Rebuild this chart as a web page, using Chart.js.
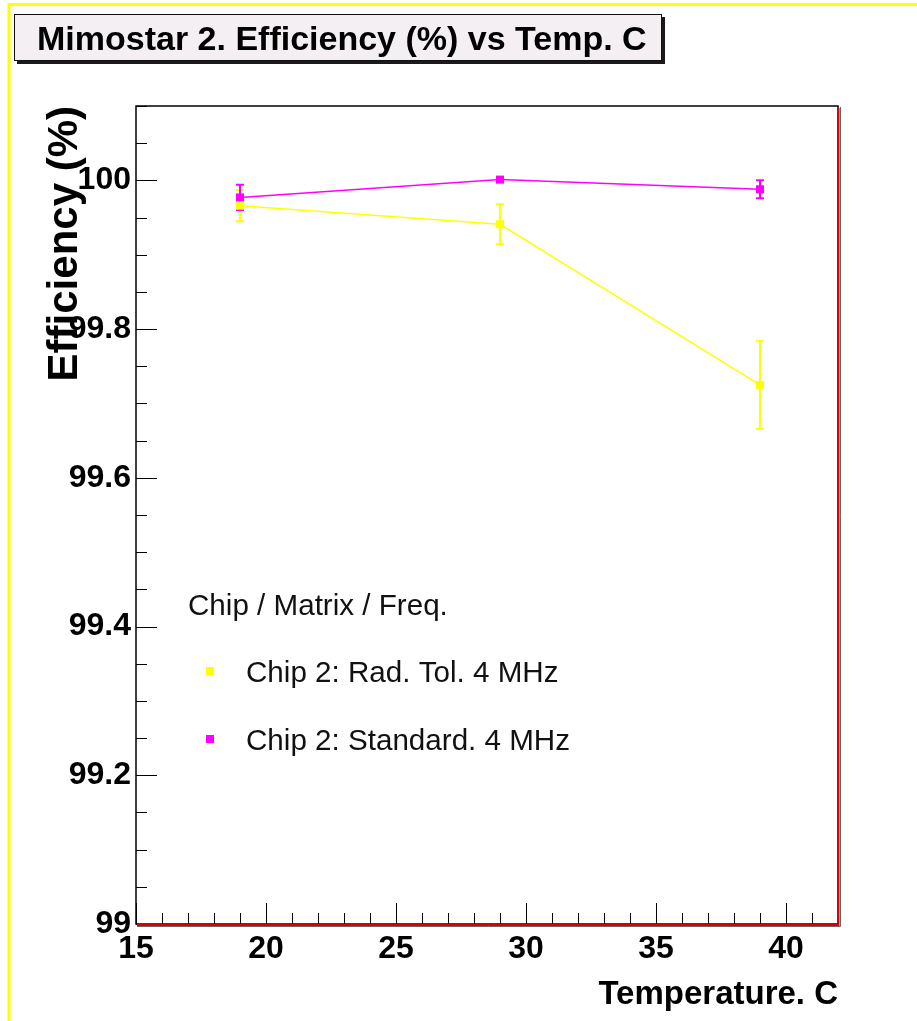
<!DOCTYPE html>
<html>
<head>
<meta charset="utf-8">
<script src="https://cdn.jsdelivr.net/npm/chart.js@4.4.1/dist/chart.umd.min.js"></script>
<style>
  html, body { margin: 0; padding: 0; background: #ffffff; }
  #effChart { display: block; }
</style>
</head>
<body>
<canvas id="effChart" width="917" height="1021"></canvas>
<script>
// Data
const temps = [19, 29, 39];
const radTolEff = [99.966, 99.941, 99.725];
const radTolErr = [0.021, 0.027, 0.059];
const standardEff = [99.977, 100.001, 99.988];
const standardErr = [0.017, 0.003, 0.012];

const seriesLabels = ['Chip 2: Rad. Tol. 4 MHz', 'Chip 2: Standard. 4 MHz'];
const seriesColors = ['#ffff00', '#ff00ff'];
const legendHeader = 'Chip / Matrix / Freq.';
const chartTitle = 'Mimostar 2. Efficiency (%) vs Temp. C';
const xTitle = 'Temperature. C';
const yTitle = 'Efficiency (%)';

const xTicks = [15, 20, 25, 30, 35, 40];
const yTicks = [99, 99.2, 99.4, 99.6, 99.8, 100];
const yTickLabels = ['99', '99.2', '99.4', '99.6', '99.8', '100'];

const FONT = '"Liberation Sans", Arial, Helvetica, sans-serif';
const errors = [radTolErr, standardErr];

// yellow page border, title box, y title
const decorPlugin = {
    id: 'decor',
    beforeDraw(chart) {
        const ctx = chart.ctx;
        ctx.save();
        ctx.fillStyle = '#ffffff';
        ctx.fillRect(0, 0, chart.width, chart.height);
        ctx.strokeStyle = '#ffff00';
        ctx.lineWidth = 3;
        ctx.beginPath();
        ctx.moveTo(9, chart.height);
        ctx.lineTo(9, 4.5);
        ctx.lineTo(chart.width, 4.5);
        ctx.stroke();

        // title box with shadow
        ctx.fillStyle = '#1a1a1a';
        ctx.fillRect(17, 17, 648, 47);
        ctx.fillStyle = '#f3eff3';
        ctx.fillRect(14, 14, 648, 47);
        ctx.strokeStyle = '#111111';
        ctx.lineWidth = 1;
        ctx.strokeRect(14.5, 14.5, 647, 46);
        ctx.fillStyle = '#000000';
        ctx.font = 'bold 34px ' + FONT;
        ctx.textBaseline = 'alphabetic';
        ctx.fillText(chartTitle, 37, 50);
        ctx.restore();
    },
    afterDraw(chart) {
        const ctx = chart.ctx;
        ctx.save();
        ctx.translate(77, 106);
        ctx.rotate(-Math.PI / 2);
        ctx.font = 'bold 42px ' + FONT;
        ctx.fillStyle = '#000000';
        ctx.textAlign = 'right';
        ctx.textBaseline = 'alphabetic';
        ctx.fillText(yTitle, 0, 0);
        ctx.restore();
    }
};

// frame and inward ticks, ROOT style
const framePlugin = {
    id: 'frame',
    afterDatasetsDraw(chart) {
        const ctx = chart.ctx;
        const a = chart.chartArea;
        const xs = chart.scales.x;
        const ys = chart.scales.y;
        ctx.save();
        ctx.strokeStyle = '#000000';
        ctx.lineWidth = 1;
        ctx.beginPath();
        // x ticks
        for (let v = Math.ceil(xs.min); v < xs.max; v++) {
            const px = Math.round(xs.getPixelForValue(v)) + 0.5;
            const len = (v % 5 === 0) ? 21 : 11;
            ctx.moveTo(px, a.bottom);
            ctx.lineTo(px, a.bottom - len);
        }
        // y ticks
        for (let k = 0; ys.min + k * 0.05 <= ys.max + 1e-9; k++) {
            const v = ys.min + k * 0.05;
            const py = Math.round(ys.getPixelForValue(v)) + 0.5;
            const len = (k % 4 === 0) ? 21 : 11;
            ctx.moveTo(a.left, py);
            ctx.lineTo(a.left + len, py);
        }
        ctx.stroke();

        ctx.strokeStyle = '#000000';
        ctx.lineWidth = 1.5;
        ctx.strokeRect(a.left, a.top, a.right - a.left, a.bottom - a.top);
        ctx.strokeStyle = '#666666';
        ctx.lineWidth = 1;
        ctx.beginPath();
        ctx.moveTo(a.right + 2.5, a.top + 1);
        ctx.lineTo(a.right + 2.5, a.bottom + 2.5);
        ctx.lineTo(a.left + 1, a.bottom + 2.5);
        ctx.stroke();
        ctx.strokeStyle = '#e00000';
        ctx.lineWidth = 2;
        ctx.beginPath();
        ctx.moveTo(a.right + 0.5, a.top + 2);
        ctx.lineTo(a.right + 0.5, a.bottom + 1);
        ctx.lineTo(a.left + 1, a.bottom + 1);
        ctx.stroke();
        ctx.restore();
    }
};

// vertical error bars with caps
const errorBarPlugin = {
    id: 'errorBars',
    beforeDatasetsDraw(chart) {
        const ctx = chart.ctx;
        const ys = chart.scales.y;
        ctx.save();
        chart.data.datasets.forEach((ds, i) => {
            const meta = chart.getDatasetMeta(i);
            ctx.strokeStyle = ds.borderColor;
            ctx.lineWidth = 2;
            meta.data.forEach((pt, j) => {
                const v = ds.data[j].y;
                const top = ys.getPixelForValue(v + errors[i][j]);
                const bot = ys.getPixelForValue(v - errors[i][j]);
                ctx.beginPath();
                ctx.moveTo(pt.x, top);
                ctx.lineTo(pt.x, bot);
                ctx.moveTo(pt.x - 4, top);
                ctx.lineTo(pt.x + 4, top);
                ctx.moveTo(pt.x - 4, bot);
                ctx.lineTo(pt.x + 4, bot);
                ctx.stroke();
            });
        });
        ctx.restore();
    }
};

// legend inside the frame
const legendPlugin = {
    id: 'innerLegend',
    afterDraw(chart) {
        const ctx = chart.ctx;
        ctx.save();
        ctx.fillStyle = '#111111';
        ctx.font = '29.6px ' + FONT;
        ctx.textBaseline = 'alphabetic';
        ctx.fillText(legendHeader, 188, 615);
        chart.data.datasets.forEach((ds, i) => {
            const cy = 671 + i * 68;
            ctx.fillStyle = ds.borderColor;
            ctx.fillRect(206, cy - 4, 8, 8);
            ctx.fillStyle = '#111111';
            ctx.fillText(ds.label, 246, cy + 11);
        });
        ctx.restore();
    }
};

function makeSeries(values) {
    return temps.map((t, i) => ({ x: t, y: values[i] }));
}

const ctx = document.getElementById('effChart').getContext('2d');
new Chart(ctx, {
    type: 'scatter',
    data: {
        datasets: [{
            label: seriesLabels[0],
            data: makeSeries(radTolEff),
            borderColor: seriesColors[0],
            backgroundColor: seriesColors[0],
            showLine: true,
            borderWidth: 1.5,
            pointStyle: 'rect',
            pointRadius: 5.7,
            pointBorderWidth: 0
        }, {
            label: seriesLabels[1],
            data: makeSeries(standardEff),
            borderColor: seriesColors[1],
            backgroundColor: seriesColors[1],
            showLine: true,
            borderWidth: 1.5,
            pointStyle: 'rect',
            pointRadius: 5.7,
            pointBorderWidth: 0
        }]
    },
    options: {
        responsive: false,
        animation: false,
        devicePixelRatio: 1,
        layout: { padding: { left: 0, top: 106, right: 79, bottom: 0 } },
        plugins: {
            legend: { display: false },
            tooltip: { enabled: false }
        },
        scales: {
            x: {
                type: 'linear',
                min: 15,
                max: 42,
                afterBuildTicks: (scale) => { scale.ticks = xTicks.map(v => ({ value: v })); },
                afterFit: (scale) => { scale.height = 97; },
                grid: { display: false, drawTicks: false },
                border: { display: false },
                ticks: {
                    padding: 6,
                    color: '#000000',
                    font: { family: FONT, size: 32, weight: 'bold' },
                    maxRotation: 0
                },
                title: {
                    display: true,
                    text: xTitle,
                    align: 'end',
                    color: '#000000',
                    font: { family: FONT, size: 33, weight: 'bold' },
                    padding: { top: 0, bottom: 6 }
                }
            },
            y: {
                min: 99,
                max: 100.1,
                afterBuildTicks: (scale) => { scale.ticks = yTicks.map(v => ({ value: v })); },
                afterFit: (scale) => { scale.width = 136; },
                grid: { display: false, drawTicks: false },
                border: { display: false },
                ticks: {
                    padding: 5,
                    color: '#000000',
                    font: { family: FONT, size: 32, weight: 'bold' },
                    callback: (value, index) => yTickLabels[index]
                }
            }
        }
    },
    plugins: [decorPlugin, errorBarPlugin, framePlugin, legendPlugin]
});
</script>
</body>
</html>
